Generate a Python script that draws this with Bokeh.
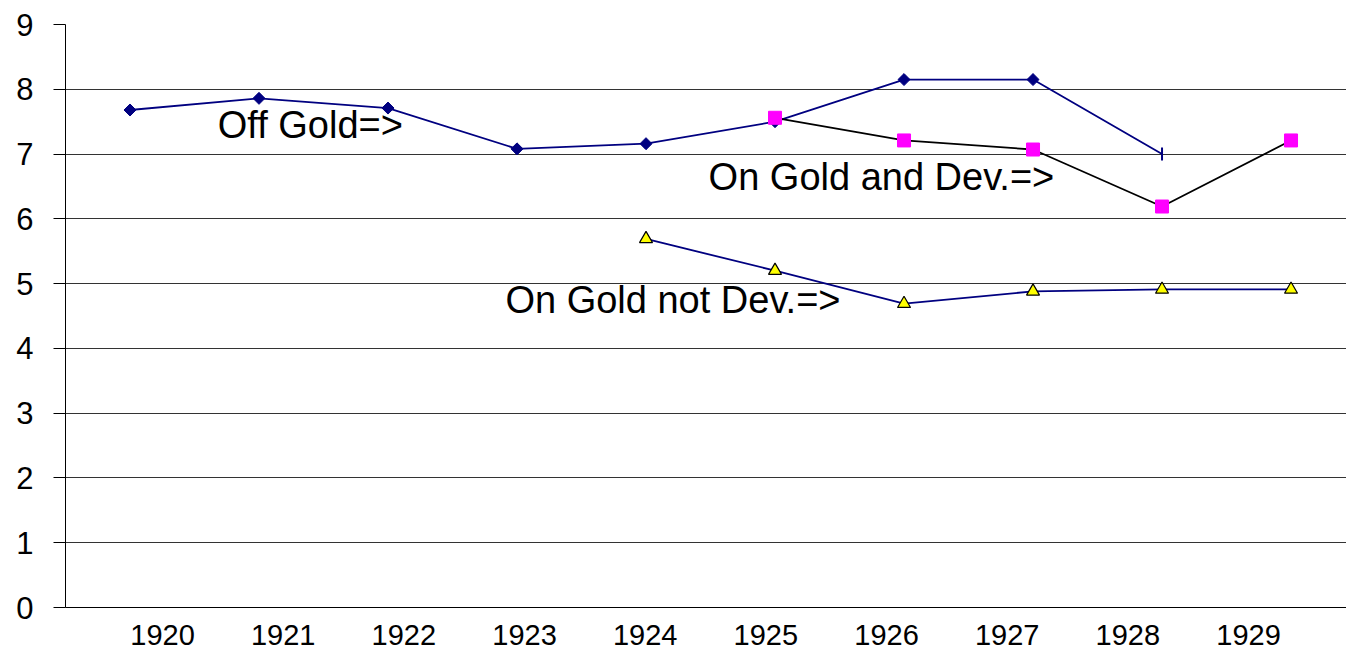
import math
from bokeh.plotting import figure
from bokeh.models import Range1d, LinearAxis, FixedTicker
from bokeh.core.properties import value
from bokeh.embed import file_html
from bokeh.resources import INLINE

YEARS = [1920, 1921, 1922, 1923, 1924, 1925, 1926, 1927, 1928, 1929]
Y_TICKS = [0, 1, 2, 3, 4, 5, 6, 7, 8, 9]

OFF_GOLD_YEARS = [1920, 1921, 1922, 1923, 1924, 1925, 1926, 1927, 1928]
OFF_GOLD = [7.68, 7.86, 7.71, 7.08, 7.16, 7.50, 8.15, 8.15, 7.00]

DEV_YEARS = [1925, 1926, 1927, 1928, 1929]
ON_GOLD_DEV = [7.56, 7.21, 7.07, 6.19, 7.21]

NOTDEV_YEARS = [1924, 1925, 1926, 1927, 1928, 1929]
ON_GOLD_NOT_DEV = [5.69, 5.20, 4.69, 4.88, 4.91, 4.91]

LABEL_TEXTS = ["Off Gold=>", "On Gold and Dev.=>", "On Gold not Dev.=>"]
LABEL_X = [1920.68, 1924.485, 1922.91]
LABEL_Y = [7.45, 6.64, 4.74]

FONT = "Liberation Sans"
NAVY = "#000080"

p = figure(width=1346, height=657,
           x_range=Range1d(1919.5, 1929.43), y_range=Range1d(0, 9),
           output_backend="svg", toolbar_location=None,
           x_axis_location=None,
           min_border_left=65, min_border_right=0, min_border_top=24,
           min_border_bottom=50)
p.outline_line_color = None
p.background_fill_color = "white"
p.border_fill_color = "white"

# category label axis (Excel spacing of the labels)
p.extra_x_ranges = {"labels": Range1d(1919.196, 1929.812)}
xaxis = LinearAxis(x_range_name="labels", ticker=FixedTicker(ticks=YEARS),
                   major_label_overrides={y: str(y) for y in YEARS})
xaxis.major_tick_out = 0
xaxis.major_tick_in = 0
xaxis.minor_tick_out = 0
xaxis.minor_tick_in = 0
xaxis.axis_line_color = "black"
xaxis.major_label_text_font = FONT
xaxis.major_label_text_font_size = "29px"
xaxis.major_label_text_color = "black"
xaxis.major_label_standoff = 17
p.add_layout(xaxis, "below")

yaxis = p.yaxis[0]
yaxis.ticker = FixedTicker(ticks=Y_TICKS)
yaxis.major_tick_out = 12
yaxis.major_tick_in = 0
yaxis.minor_tick_out = 0
yaxis.minor_tick_in = 0
yaxis.axis_line_color = "black"
yaxis.major_tick_line_color = "black"
yaxis.major_label_text_font = FONT
yaxis.major_label_text_font_size = "31px"
yaxis.major_label_text_color = "black"
yaxis.major_label_standoff = 20

p.xgrid.visible = False
p.ygrid.ticker = FixedTicker(ticks=Y_TICKS)
p.ygrid.grid_line_color = "#333333"
p.ygrid.grid_line_width = 1

# Off Gold
p.line(OFF_GOLD_YEARS, OFF_GOLD, line_color=NAVY, line_width=1.8)
p.scatter(OFF_GOLD_YEARS[:-1], OFF_GOLD[:-1], marker="square", angle=math.pi / 4,
          size=8.5, fill_color=NAVY, line_color=NAVY)
p.scatter(OFF_GOLD_YEARS[-1:], OFF_GOLD[-1:], marker="dash", angle=math.pi / 2,
          size=13, line_color=NAVY, line_width=2)

# On Gold and Dev.
p.line(DEV_YEARS, ON_GOLD_DEV, line_color="black", line_width=1.8)
p.scatter(DEV_YEARS, ON_GOLD_DEV, marker="square", size=13,
          fill_color="#FF00FF", line_color="#FF00FF")

# On Gold not Dev.
p.line(NOTDEV_YEARS, ON_GOLD_NOT_DEV, line_color=NAVY, line_width=1.8)
p.scatter(NOTDEV_YEARS, ON_GOLD_NOT_DEV, marker="triangle", size=13,
          fill_color="#FFFF00", line_color="black", line_width=1.2)

p.text(x=LABEL_X, y=LABEL_Y, text=LABEL_TEXTS, text_font=value(FONT),
       text_font_size="38px", text_color="black",
       text_baseline="middle", text_align="left")

open("out.html", "w").write(file_html(p, INLINE))
